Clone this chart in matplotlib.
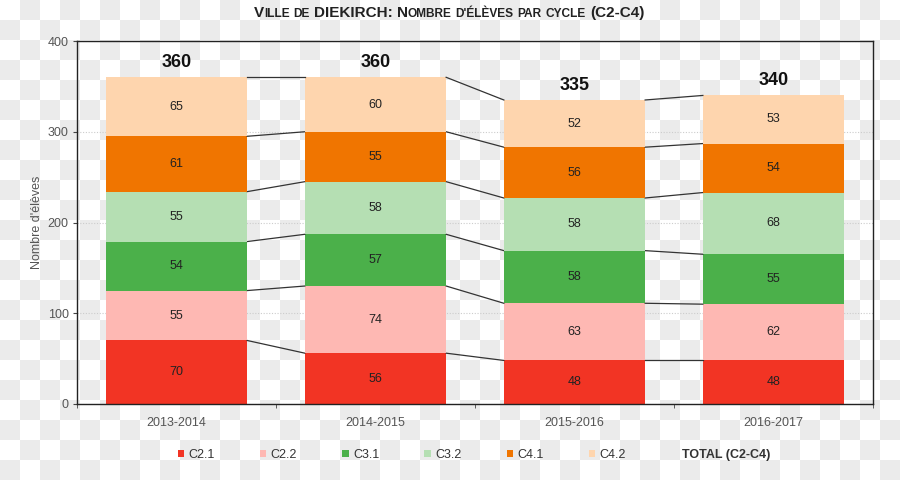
import numpy as np
import matplotlib
matplotlib.use("Agg")
import matplotlib.pyplot as plt
from matplotlib.patches import Patch
from matplotlib.lines import Line2D
from matplotlib.colors import ListedColormap

plt.rcParams['font.family'] = ['Liberation Sans', 'DejaVu Sans']

years = ["2013-2014", "2014-2015", "2015-2016", "2016-2017"]
series = ["C2.1", "C2.2", "C3.1", "C3.2", "C4.1", "C4.2"]
c21 = [70, 56, 48, 48]
c22 = [55, 74, 63, 62]
c31 = [54, 57, 58, 55]
c32 = [55, 58, 58, 68]
c41 = [61, 55, 56, 54]
c42 = [65, 60, 52, 53]
totals = [360, 360, 335, 340]
colors = ["#f23424", "#feb8b3", "#4bb04a", "#b5dfb3", "#f07500", "#fed5ae"]

values = np.array([c21, c22, c31, c32, c41, c42])

fig = plt.figure(figsize=(9, 4.8), dpi=100)
fig.patch.set_facecolor("white")

# checkerboard background (transparency pattern of the source image)
bg = fig.add_axes([0, 0, 1, 1], zorder=-10)
rr, cc = np.indices((24, 45))
bg.imshow((rr + cc) % 2, cmap=ListedColormap(["white", "#ebebeb"]),
          aspect="auto", interpolation="nearest", extent=[0, 900, 480, 0])
bg.axis("off")

ax = fig.add_axes([77/900, 1 - 404/480, 796/900, 363/480])
ax.set_facecolor("none")

x = np.arange(len(years))
w = 0.71
bottom = np.zeros(len(years))
for k in range(len(series)):
    ax.bar(x, values[k], w, bottom=bottom, color=colors[k], zorder=2)
    for i in range(len(years)):
        ax.text(x[i], bottom[i] + values[k][i] / 2, str(values[k][i]),
                ha="center", va="center", fontsize=9, color="#222222", zorder=3)
    bottom = bottom + values[k]
    # connectors between adjacent bars
    for i in range(len(years) - 1):
        ax.plot([x[i] + w/2, x[i+1] - w/2], [bottom[i], bottom[i+1]],
                color="#333333", lw=0.9, zorder=2)

# totals above the bars
for i in range(len(years)):
    ax.annotate(str(totals[i]), (x[i], bottom[i]), xytext=(0, 4.5),
                textcoords="offset points", ha="center", va="bottom",
                fontsize=13, fontweight="bold", color="#111111")

ax.set_xlim(-0.5, 3.5)
ax.set_ylim(0, 400)
ax.set_yticks([0, 100, 200, 300, 400])
ax.set_xticks(x)
ax.set_xticklabels(years)
ax.set_xticks([-0.5, 0.5, 1.5, 2.5, 3.5], minor=True)
ax.tick_params(axis="x", which="major", length=0, pad=9, labelsize=9, labelcolor="#555555")
ax.tick_params(axis="x", which="minor", length=3, color="#444444", direction="out")
ax.tick_params(axis="y", length=3, color="#444444", labelsize=9, labelcolor="#555555", pad=3)
ax.grid(axis="y", linestyle=(0, (1, 1.5)), color="#cccccc", lw=0.8, zorder=0)
ax.set_axisbelow(True)
for s in ax.spines.values():
    s.set_color("#222222")
    s.set_linewidth(1.0)
ax.set_ylabel("Nombre d'élèves", fontsize=9, color="#555555", labelpad=3)

# legend
handles = [Patch(facecolor=c, edgecolor="none") for c in colors]
handles.append(Line2D([], [], color="none"))
labels = series + ["TOTAL (C2-C4)"]
leg = fig.legend(handles, labels, loc="center", bbox_to_anchor=(474/900, 1 - 455/480),
                 ncol=7, frameon=False, fontsize=9, handlelength=0.5, handleheight=0.5,
                 handletextpad=0.35, columnspacing=3.62, labelcolor="#333333")
leg.get_texts()[-1].set_fontweight("bold")

# small-caps title
words = [[("V", 1), ("ILLE", 0)], [("DE", 0)], [("DIEKIRCH:", 1)], [("N", 1), ("OMBRE", 0)],
         [("D'ÉLÈVES", 0)], [("PAR", 0)], [("CYCLE", 0)], [("(C2-C4)", 1)]]
sizes = {1: 11, 0: 8.6}
renderer = fig.canvas.get_renderer()
pieces = []
cursor = 0.0
space = 4.0
for wi, word in enumerate(words):
    if wi > 0:
        cursor += space
    for txt, big in word:
        t = fig.text(0, 1 - 12/480, txt, fontsize=sizes[big], fontweight="bold",
                     color="#222222", ha="left", va="baseline")
        ext = t.get_window_extent(renderer)
        pieces.append((t, cursor))
        cursor += ext.width
x0 = 449 - cursor / 2
for t, off in pieces:
    t.set_x((x0 + off) / 900)
    t.set_y(1 - 17/480)

fig.savefig("out.png", dpi=100)
